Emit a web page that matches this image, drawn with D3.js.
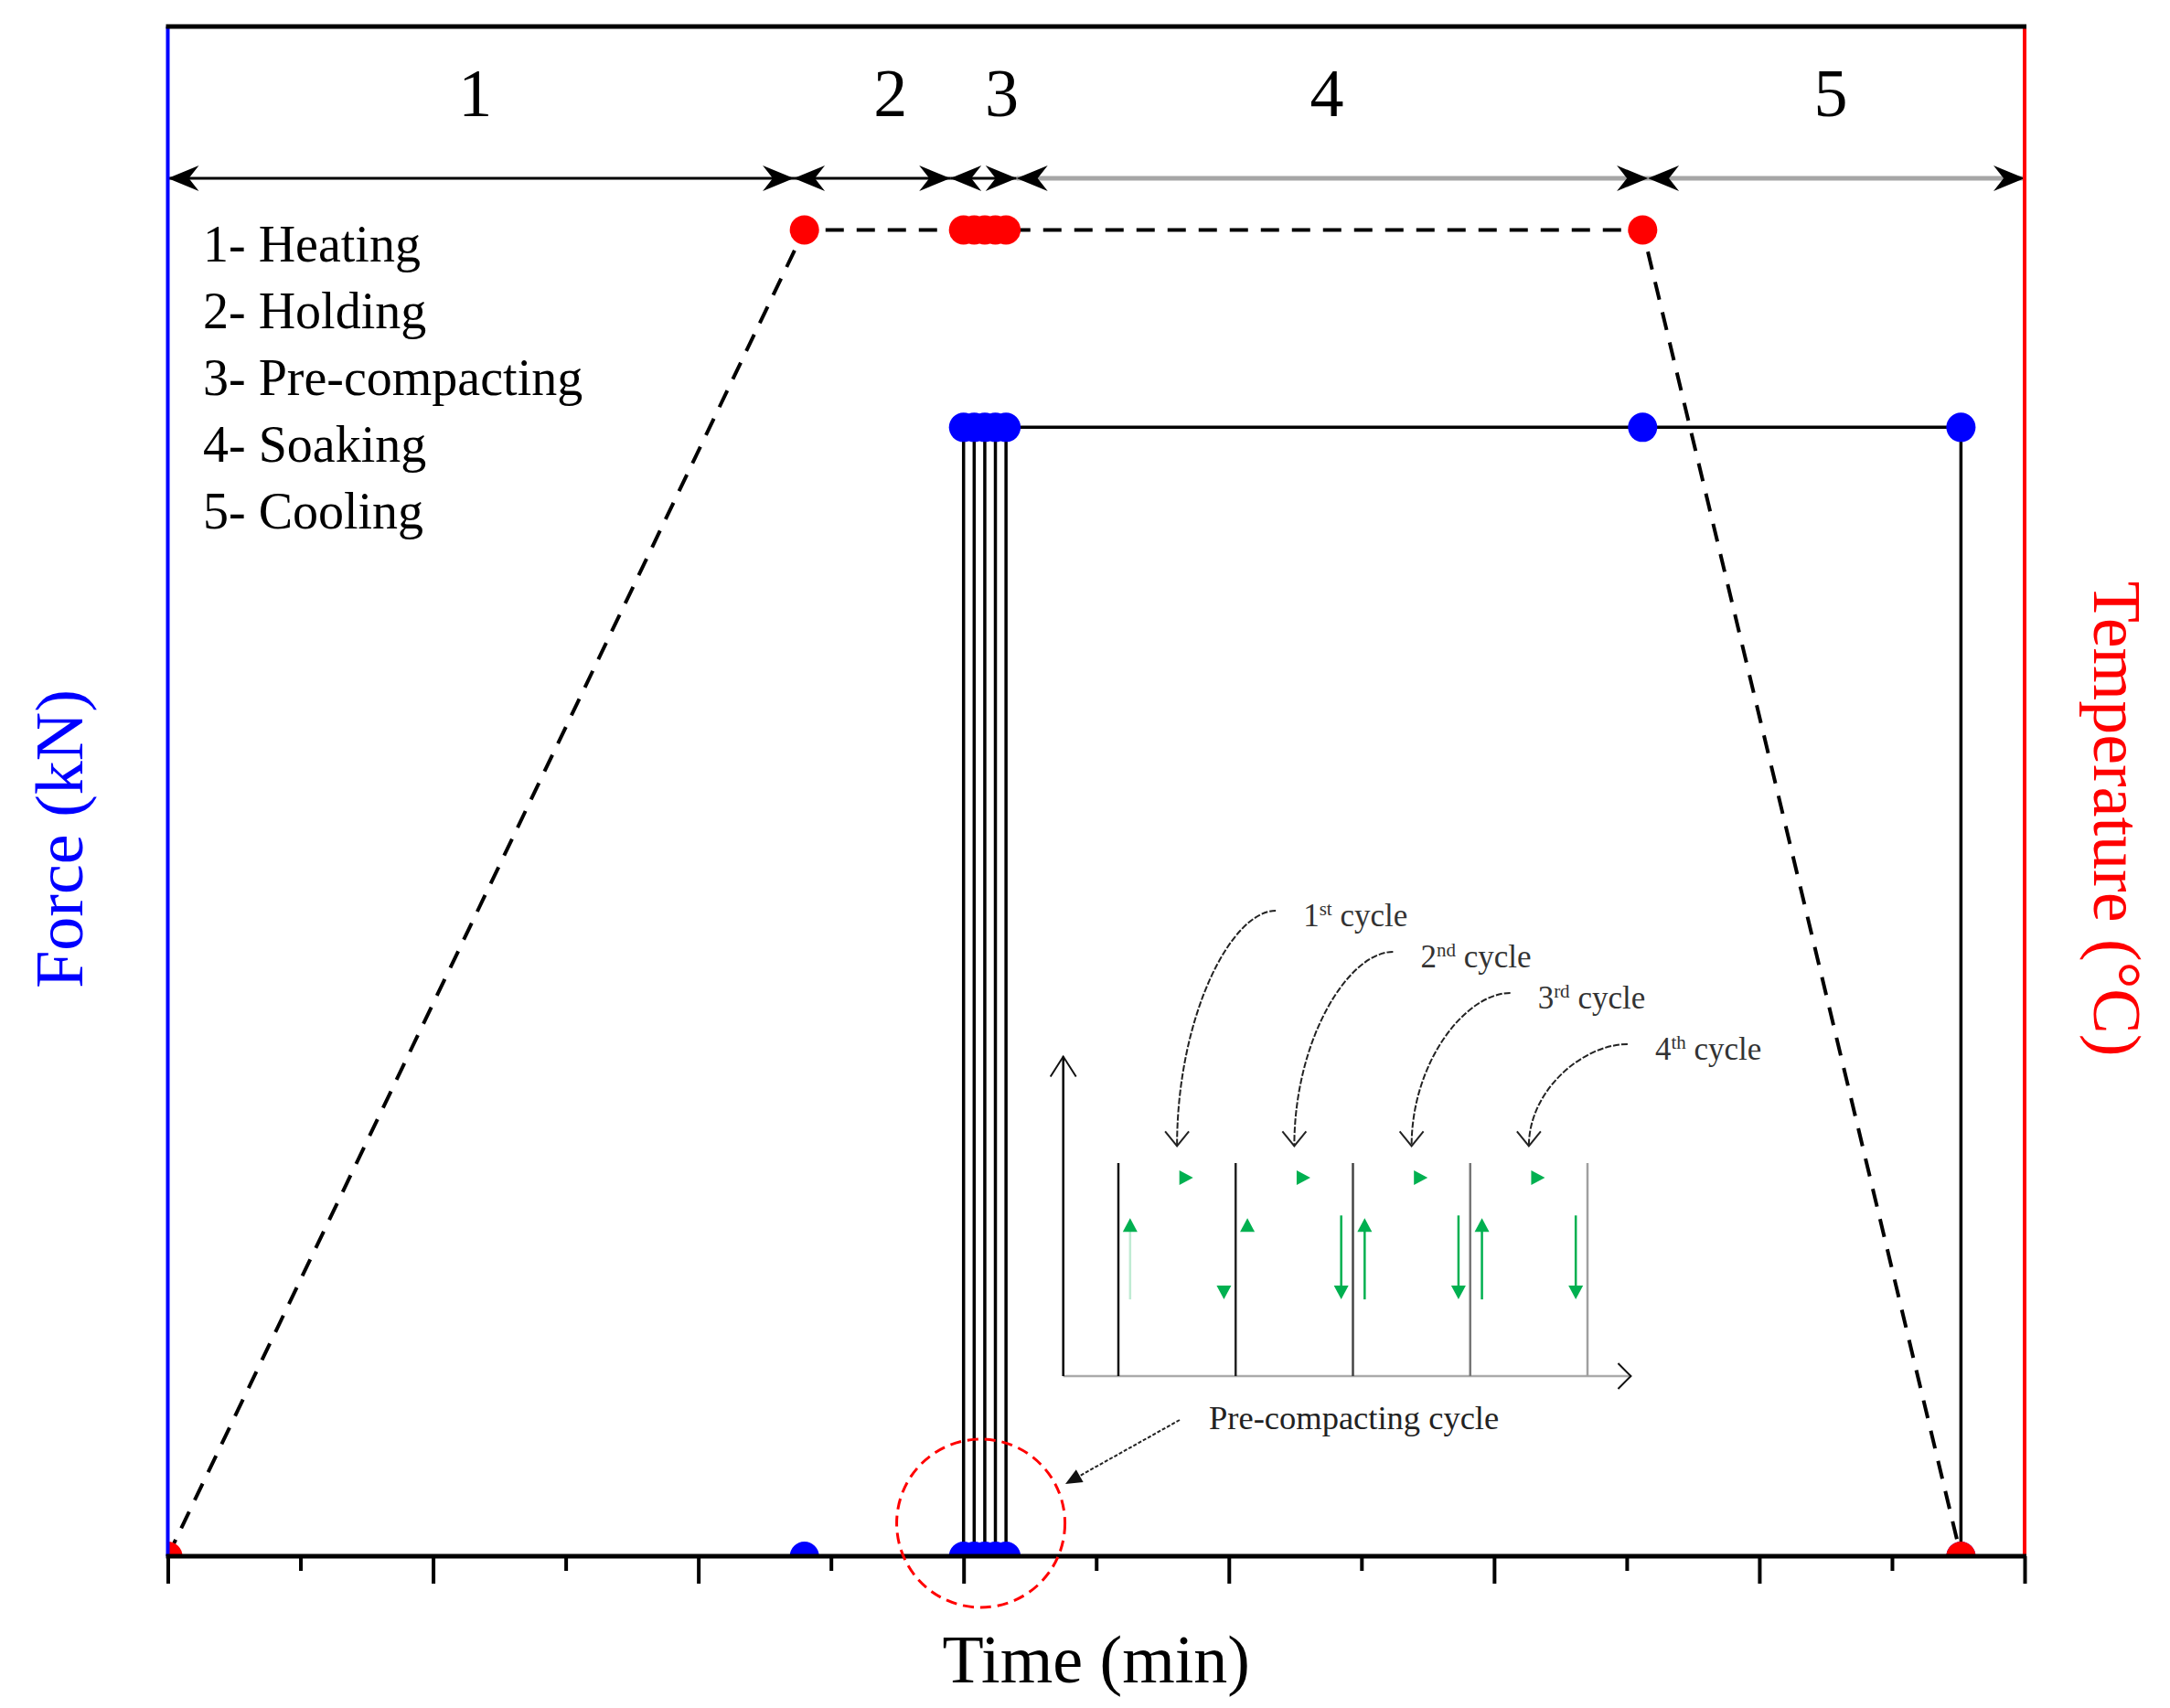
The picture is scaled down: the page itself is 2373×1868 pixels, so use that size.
<!DOCTYPE html>
<html>
<head>
<meta charset="utf-8">
<script src="https://cdn.jsdelivr.net/npm/d3@7"></script>
<style>
body { margin: 0; background: #fff; }
svg { display: block; }
text { font-family: "Liberation Serif", "Times New Roman", serif; }
</style>
</head>
<body>
<svg id="chart" width="2373" height="1868"></svg>
<script>
// process phases, edges are in time units of the x axis
var phaseNames = ["Heating", "Holding", "Pre-compacting", "Soaking", "Cooling"]
var phaseEdges = [0, 2.36, 2.95, 3.2, 5.58, 7]

// temperature profile (share of axis height, no scale printed)
var tempTime  = [0, 2.4, 3.0, 3.04, 3.08, 3.12, 3.16, 5.56, 6.76]
var tempValue = [0, 0.867, 0.867, 0.867, 0.867, 0.867, 0.867, 0.867, 0]

// force profile (share of axis height)
var forceTime  = [2.4, 3.0, 3.0, 3.04, 3.04, 3.08, 3.08, 3.12, 3.12, 3.16, 3.16, 5.56, 6.76, 6.76]
var forceValue = [0, 0, 0.738, 0.738, 0, 0, 0.738, 0.738, 0, 0, 0.738, 0.738, 0.738, 0]

var majorTicks = d3.range(0, 8)
var minorTicks = d3.range(0.5, 7, 1)

// inset: pre-compacting cycles
var cycleNum    = ["1", "2", "3", "4"]
var cycleSuffix = ["st", "nd", "rd", "th"]
var upShaft     = [0.25, 0, 1, 1]   // how visible the upward shaft is
var downShaft   = [0, 1, 1, 1]
var cycleLineColor = ["#111", "#222", "#444", "#777", "#a0a0a0"]

var L = 183.5, R = 2214, T = 29, B = 1702

var svg = d3.select("#chart")

var x = d3.scaleLinear().domain([0, 7]).range([L, R])
var yT = d3.scaleLinear().domain([0, 1]).range([B, T])
var yF = d3.scaleLinear().domain([0, 1]).range([B, T])

svg.append("defs").append("clipPath").attr("id", "plot")
    .append("rect").attr("x", L).attr("y", T).attr("width", R - L).attr("height", B - T)

var temps = tempTime.map(function(t, i) { return {t: t, v: tempValue[i]} })
var forces = forceTime.map(function(t, i) { return {t: t, v: forceValue[i]} })

var plot = svg.append("g").attr("clip-path", "url(#plot)")

// force line (solid)
plot.append("path")
    .datum(forces)
    .attr("fill", "none")
    .attr("stroke", "#000")
    .attr("stroke-width", 3.5)
    .attr("d", d3.line().x(function(d) { return x(d.t) }).y(function(d) { return yF(d.v) }))

// temperature line (dashed)
plot.append("path")
    .datum(temps)
    .attr("fill", "none")
    .attr("stroke", "#000")
    .attr("stroke-width", 4)
    .attr("stroke-dasharray", "20 14")
    .attr("d", d3.line().x(function(d) { return x(d.t) }).y(function(d) { return yT(d.v) }))

plot.selectAll(".fdot").data(forces).join("circle")
    .attr("class", "fdot")
    .attr("cx", function(d) { return x(d.t) })
    .attr("cy", function(d) { return yF(d.v) })
    .attr("r", 16)
    .attr("fill", "#0000ff")

plot.selectAll(".tdot").data(temps).join("circle")
    .attr("class", "tdot")
    .attr("cx", function(d) { return x(d.t) })
    .attr("cy", function(d) { return yT(d.v) })
    .attr("r", 16)
    .attr("fill", "#ff0000")

// phase arrows along the top
var arrowY = 195
function arrowHead(tipX, dir) {
    var len = 34, hw = 14, notch = 11
    return "M" + tipX + "," + arrowY +
        "L" + (tipX - dir * len) + "," + (arrowY - hw) +
        "L" + (tipX - dir * (len - notch)) + "," + arrowY +
        "L" + (tipX - dir * len) + "," + (arrowY + hw) + "Z"
}
var phases = phaseNames.map(function(n, i) {
    return {name: n, a: phaseEdges[i], b: phaseEdges[i + 1], i: i}
})
var ph = svg.append("g")
ph.selectAll("line").data(phases).join("line")
    .attr("x1", function(d) { return x(d.a) })
    .attr("x2", function(d) { return x(d.b) })
    .attr("y1", arrowY).attr("y2", arrowY)
    .attr("stroke", function(d) { return d.i < 3 ? "#000" : "#a6a6a6" })
    .attr("stroke-width", function(d) { return d.i < 3 ? 3 : 5 })
ph.selectAll("path").data(phases).join("path")
    .attr("d", function(d) { return arrowHead(x(d.a), -1) + arrowHead(x(d.b), 1) })
    .attr("fill", "#000")
ph.selectAll("text").data(phases).join("text")
    .attr("x", function(d) { return x((d.a + d.b) / 2) + (d.b - d.a < 1 ? 20 : -6) })
    .attr("y", 127)
    .attr("text-anchor", "middle")
    .attr("font-size", 74)
    .text(function(d) { return d.i + 1 })

// legend of phases
svg.append("g").selectAll("text").data(phases).join("text")
    .attr("x", 222)
    .attr("y", function(d) { return 286 + d.i * 73 })
    .attr("font-size", 56)
    .text(function(d) { return (d.i + 1) + "- " + d.name })

// bottom axis
var axMajor = svg.append("g").attr("transform", "translate(0," + B + ")")
    .call(d3.axisBottom(x).tickValues(majorTicks).tickSize(30).tickSizeOuter(0).tickFormat(""))
var axMinor = svg.append("g").attr("transform", "translate(0," + B + ")")
    .call(d3.axisBottom(x).tickValues(minorTicks).tickSize(16).tickSizeOuter(0).tickFormat(""))
axMajor.select(".domain").remove()
axMinor.select(".domain").remove()
svg.selectAll(".tick line").attr("stroke", "#000").attr("stroke-width", 4)

// frame
svg.append("line").attr("x1", L).attr("x2", L).attr("y1", T).attr("y2", B)
    .attr("stroke", "#0000ff").attr("stroke-width", 4)
svg.append("line").attr("x1", R).attr("x2", R).attr("y1", T).attr("y2", B)
    .attr("stroke", "#ff0000").attr("stroke-width", 4)
svg.append("line").attr("x1", L - 2).attr("x2", R + 2).attr("y1", T).attr("y2", T)
    .attr("stroke", "#000").attr("stroke-width", 5)
svg.append("line").attr("x1", L - 2).attr("x2", R + 2).attr("y1", B).attr("y2", B)
    .attr("stroke", "#000").attr("stroke-width", 5)

// axis titles
svg.append("text")
    .attr("transform", "translate(90," + ((T + B) / 2 + 52) + ") rotate(-90)")
    .attr("text-anchor", "middle")
    .attr("font-size", 74)
    .attr("fill", "#0000ff")
    .text("Force (kN)")
svg.append("text")
    .attr("transform", "translate(2290," + ((T + B) / 2 + 30) + ") rotate(90)")
    .attr("text-anchor", "middle")
    .attr("font-size", 74)
    .attr("fill", "#ff0000")
    .text("Temperature (°C)")
svg.append("text")
    .attr("x", (L + R) / 2)
    .attr("y", 1840)
    .attr("text-anchor", "middle")
    .attr("font-size", 74)
    .text("Time (min)")

// red dashed circle round the pre-compacting cycles
var cx = x(d3.mean([3.0, 3.16]) - 0.015), cy = B - 36, cr = 92
svg.append("circle")
    .attr("cx", cx).attr("cy", cy).attr("r", cr)
    .attr("fill", "none")
    .attr("stroke", "#ff0000")
    .attr("stroke-width", 3)
    .attr("stroke-dasharray", "12 7")

// ---- inset ----
var ix = d3.scaleLinear().domain([0, 4]).range([1223, 1736])
var iy = d3.scaleLinear().domain([0, 1]).range([1505, 1272])
var inset = svg.append("g")

inset.append("line")
    .attr("x1", ix(-0.47)).attr("x2", ix(4.37)).attr("y1", iy(0)).attr("y2", iy(0))
    .attr("stroke", "#aaa").attr("stroke-width", 2.5)
inset.append("path")
    .attr("d", "M" + (ix(4.37) - 14) + "," + (iy(0) - 14) + "L" + ix(4.37) + "," + iy(0) +
        "L" + (ix(4.37) - 14) + "," + (iy(0) + 14))
    .attr("fill", "none").attr("stroke", "#111").attr("stroke-width", 2)
inset.append("line")
    .attr("x1", ix(-0.47)).attr("x2", ix(-0.47)).attr("y1", iy(0)).attr("y2", iy(1.5))
    .attr("stroke", "#000").attr("stroke-width", 2.5)
inset.append("path")
    .attr("d", "M" + (ix(-0.47) - 14) + "," + (iy(1.5) + 22) + "L" + ix(-0.47) + "," + iy(1.5) +
        "L" + (ix(-0.47) + 14) + "," + (iy(1.5) + 22))
    .attr("fill", "none").attr("stroke", "#111").attr("stroke-width", 2)

inset.selectAll(".cl").data(cycleLineColor).join("line")
    .attr("class", "cl")
    .attr("x1", function(d, i) { return ix(i) }).attr("x2", function(d, i) { return ix(i) })
    .attr("y1", iy(0)).attr("y2", iy(1))
    .attr("stroke", function(d) { return d }).attr("stroke-width", 2.5)

var green = "#00b050"
var cycles = cycleNum.map(function(n, i) { return {n: n, s: cycleSuffix[i], i: i} })
var cg = inset.selectAll(".cyc").data(cycles).join("g").attr("class", "cyc")

// right-pointing marks
cg.append("path")
    .attr("d", function(d) {
        var x0 = ix(d.i + 0.52), y0 = iy(0.931)
        return "M" + x0 + "," + (y0 - 8) + "L" + (x0 + 15) + "," + y0 + "L" + x0 + "," + (y0 + 8) + "Z"
    })
    .attr("fill", green)
// upward arrows
cg.append("line")
    .attr("x1", function(d) { return ix(d.i + 0.1) }).attr("x2", function(d) { return ix(d.i + 0.1) })
    .attr("y1", iy(0.36)).attr("y2", iy(0.7))
    .attr("stroke", green).attr("stroke-width", 2.5)
    .attr("stroke-opacity", function(d) { return upShaft[d.i] })
cg.append("path")
    .attr("d", function(d) {
        var x0 = ix(d.i + 0.1), y0 = iy(0.741)
        return "M" + x0 + "," + y0 + "L" + (x0 + 8) + "," + (y0 + 15) + "L" + (x0 - 8) + "," + (y0 + 15) + "Z"
    })
    .attr("fill", green)
// downward arrows
cg.append("line")
    .attr("x1", function(d) { return ix(d.i + 0.9) }).attr("x2", function(d) { return ix(d.i + 0.9) })
    .attr("y1", iy(0.754)).attr("y2", iy(0.4))
    .attr("stroke", green).attr("stroke-width", 2.5)
    .attr("stroke-opacity", function(d) { return downShaft[d.i] })
cg.append("path")
    .attr("d", function(d) {
        var x0 = ix(d.i + 0.9), y0 = iy(0.36)
        return "M" + x0 + "," + y0 + "L" + (x0 + 8) + "," + (y0 - 15) + "L" + (x0 - 8) + "," + (y0 - 15) + "Z"
    })
    .attr("fill", green)

// cycle callouts
var labelBase = [1013, 1058, 1103, 1159]
cg.append("path")
    .attr("d", function(d) {
        var tx = ix(d.i + 0.5), ty = iy(1.08)
        var sx = tx + 108, sy = labelBase[d.i] - 17
        var dx = sx - tx, dy = ty - sy
        return "M" + sx + "," + sy +
            "C" + (sx - 0.45 * dx) + "," + sy + " " + tx + "," + (sy + 0.45 * dy) + " " + tx + "," + ty
    })
    .attr("fill", "none").attr("stroke", "#222").attr("stroke-width", 2)
    .attr("stroke-dasharray", "7 2")
cg.append("path")
    .attr("d", function(d) {
        var tx = ix(d.i + 0.5), ty = iy(1.08)
        return "M" + (tx - 13) + "," + (ty - 16) + "L" + tx + "," + ty + "L" + (tx + 13) + "," + (ty - 16)
    })
    .attr("fill", "none").attr("stroke", "#222").attr("stroke-width", 2)

var lbl = cg.append("text")
    .attr("x", function(d) { return ix(d.i + 0.5) + 138 })
    .attr("y", function(d) { return labelBase[d.i] })
    .attr("font-size", 35)
    .attr("fill", "#333")
lbl.append("tspan").text(function(d) { return d.n })
lbl.append("tspan").attr("font-size", 21).attr("dy", -12).text(function(d) { return d.s })
lbl.append("tspan").attr("dy", 12).text(" cycle")

// pre-compacting cycle label and pointer
inset.append("text")
    .attr("x", 1322).attr("y", 1563)
    .attr("font-size", 36.5)
    .attr("fill", "#222")
    .text("Pre-compacting cycle")
var ang = -25 * Math.PI / 180
var tipX = cx + (cr + 10) * Math.cos(ang), tipY = cy + (cr + 10) * Math.sin(ang)
var sX = 1290, sY = 1553
var ux = (sX - tipX), uy = (sY - tipY), ul = Math.sqrt(ux * ux + uy * uy)
ux /= ul; uy /= ul
inset.append("line")
    .attr("x1", sX).attr("y1", sY).attr("x2", tipX + ux * 14).attr("y2", tipY + uy * 14)
    .attr("stroke", "#222").attr("stroke-width", 2).attr("stroke-dasharray", "4 2")
inset.append("path")
    .attr("d", "M" + tipX + "," + tipY +
        "L" + (tipX + ux * 18 - uy * 8) + "," + (tipY + uy * 18 + ux * 8) +
        "L" + (tipX + ux * 18 + uy * 8) + "," + (tipY + uy * 18 - ux * 8) + "Z")
    .attr("fill", "#111")
</script>
</body>
</html>
